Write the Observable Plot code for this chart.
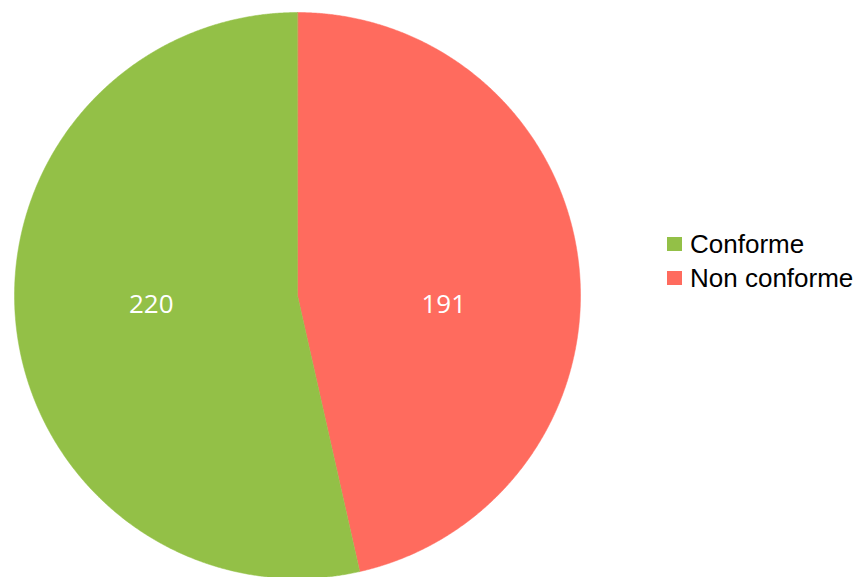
<!DOCTYPE html>
<html>
<head>
<meta charset="utf-8">
<script src="https://cdn.jsdelivr.net/npm/d3@7"></script>
<script src="https://cdn.jsdelivr.net/npm/@observablehq/plot@0.6"></script>
<style>
  html, body { margin: 0; padding: 0; background: #fff; }
  #wrap { position: relative; width: 861px; height: 577px; overflow: hidden; }
  #legend { position: absolute; left: 667px; top: 227px; font-family: "Liberation Sans", Arial, sans-serif; font-size: 26px; color: #000; }
  .row { display: flex; align-items: center; height: 34px; line-height: 30px; }
  .sw { width: 15px; height: 14px; margin-right: 8px; }
</style>
</head>
<body>
<div id="wrap"></div>
<script>
const categories = ["Conforme", "Non conforme"];
const values = [220, 191];
const colors = ["#93c047", "#ff6b5e"];
// drawing order: clockwise from 12 o'clock
const drawOrder = ["Non conforme", "Conforme"];

const rows = drawOrder.map(name => ({name, value: values[categories.indexOf(name)]}));
const arcs = d3.pie().sort(null).value(d => d.value)(rows);

const pts = [];
for (const a of arcs) {
  const name = a.data.name;
  pts.push({name, x: 0, y: 0});
  const n = Math.ceil((a.endAngle - a.startAngle) / (Math.PI / 720));
  for (let i = 0; i <= n; i++) {
    const t = a.startAngle + (a.endAngle - a.startAngle) * i / n;
    pts.push({name, x: Math.sin(t), y: Math.cos(t)});
  }
}
const labels = arcs.map(a => {
  const m = (a.startAngle + a.endAngle) / 2;
  return {name: a.data.name, text: String(a.data.value), x: 0.52 * Math.sin(m), y: 0};
});

const cx = 297, cy = 295, R = 283;
const chart = Plot.plot({
  width: 861,
  height: 577,
  margin: 0,
  x: {domain: [-1, 1], range: [cx - R, cx + R], axis: null},
  y: {domain: [-1, 1], range: [cy + R, cy - R], axis: null},
  color: {domain: categories, range: colors},
  style: {background: "#fff"},
  marks: [
    Plot.line(pts, {x: "x", y: "y", z: "name", fill: "name", stroke: "name", strokeWidth: 0.5, curve: "linear-closed"}),
    Plot.text(labels, {x: "x", y: "y", dy: 9, text: "text", fill: "white", fontSize: 26, fontFamily: "Open Sans"})
  ]
});
const wrap = document.getElementById("wrap");
wrap.appendChild(chart);

const legend = document.createElement("div");
legend.id = "legend";
categories.forEach((c, i) => {
  const r = document.createElement("div");
  r.className = "row";
  const s = document.createElement("div");
  s.className = "sw";
  s.style.background = colors[i];
  const t = document.createElement("span");
  t.textContent = c;
  r.appendChild(s); r.appendChild(t);
  legend.appendChild(r);
});
wrap.appendChild(legend);
</script>
</body>
</html>
